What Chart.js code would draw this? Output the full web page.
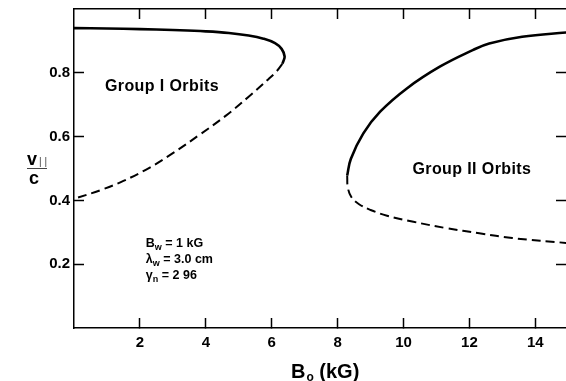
<!DOCTYPE html>
<html>
<head>
<meta charset="utf-8">
<script src="https://cdn.jsdelivr.net/npm/chart.js@4.4.1/dist/chart.umd.min.js"></script>
<style>
  html, body { margin: 0; padding: 0; background: #fff; }
  canvas { display: block; }
</style>
</head>
<body>
<canvas id="chart" width="566" height="381"></canvas>
<script>
// ---- data ----
var xTicks = [2, 4, 6, 8, 10, 12, 14];
var yTicks = [0.2, 0.4, 0.6, 0.8];

// Group I, upper branch (solid)
var g1SolidX = [0, 1, 2, 3, 4, 4.7, 5.3, 5.75, 6.1, 6.3, 6.39, 6.36, 6.32];
var g1SolidY = [0.940, 0.939, 0.937, 0.934, 0.930, 0.925, 0.917, 0.907, 0.893, 0.875, 0.852, 0.838, 0.828];
// Group I, lower branch (dashed)
var g1DashX = [6.32, 6.15, 5.9, 5.3, 4.6, 3.8, 3.0, 2.3, 1.5, 0.8, 0];
var g1DashY = [0.828, 0.805, 0.780, 0.725, 0.665, 0.605, 0.548, 0.503, 0.461, 0.432, 0.405];
// Group II, upper branch (solid)
var g2SolidX = [8.29, 8.4, 8.78, 9.29, 10.1, 11.1, 12.1, 12.6, 13.6, 15];
var g2SolidY = [0.478, 0.530, 0.610, 0.678, 0.751, 0.819, 0.871, 0.892, 0.913, 0.927];
// Group II, lower branch (dashed)
var g2DashX = [8.29, 8.31, 8.42, 8.65, 9.0, 9.5, 10.3, 11.3, 12.3, 13.3, 15];
var g2DashY = [0.478, 0.440, 0.410, 0.388, 0.370, 0.352, 0.333, 0.313, 0.297, 0.282, 0.266];

function pts(xs, ys) {
  return xs.map(function (x, i) { return { x: x, y: ys[i] }; });
}

var FONT = "'Liberation Sans', Arial, Helvetica, sans-serif";
Chart.defaults.font.family = FONT;
Chart.defaults.color = '#000';

var line = function (data, dashed) {
  return {
    data: data,
    showLine: true,
    borderColor: '#000',
    borderWidth: dashed ? 2 : 2.6,
    borderDash: dashed ? [9, 5] : [],
    pointRadius: 0,
    tension: 0.4,
    fill: false
  };
};

var gridOpts = {
  drawOnChartArea: false,
  tickLength: -10,
  tickWidth: 1.5,
  tickColor: '#000'
};

// annotation text, drawn at data positions
var labels = {
  id: 'labels',
  afterDatasetsDraw: function (chart) {
    var ctx = chart.ctx;
    var xs = chart.scales.x, ys = chart.scales.y;
    ctx.save();
    ctx.fillStyle = '#000';
    ctx.textBaseline = 'middle';
    ctx.textAlign = 'left';

    ctx.font = 'bold 16px ' + FONT;
    ctx.letterSpacing = '0.4px';
    ctx.fillText('Group I Orbits', xs.getPixelForValue(0.94), ys.getPixelForValue(0.757));
    ctx.fillText('Group II Orbits', xs.getPixelForValue(10.27), ys.getPixelForValue(0.497));
    ctx.letterSpacing = '0px';

    // parameter block
    var px = xs.getPixelForValue(2.18);
    var rows = [['B', 'w', ' = 1 kG'], ['\u03bb', 'w', ' = 3.0 cm'], ['\u03b3', 'n', ' = 2 96']];
    var rowY = [0.265, 0.215, 0.165];
    rows.forEach(function (r, i) {
      var py = ys.getPixelForValue(rowY[i]);
      ctx.font = 'bold 12.5px ' + FONT;
      ctx.fillText(r[0], px, py);
      var w = ctx.measureText(r[0]).width;
      ctx.font = 'bold 9px ' + FONT;
      ctx.fillText(r[1], px + w, py + 4);
      var w2 = ctx.measureText(r[1]).width;
      ctx.font = 'bold 12.5px ' + FONT;
      ctx.fillText(r[2], px + w + w2, py);
    });

    // x axis title: B_o (kG)
    ctx.textBaseline = 'alphabetic';
    ctx.font = 'bold 20px ' + FONT;
    var tx = 291, ty = 378;
    ctx.fillText('B', tx, ty);
    var bw = ctx.measureText('B').width;
    ctx.font = 'bold 12px ' + FONT;
    ctx.fillText('o', tx + bw + 1, ty + 3);
    var ow = ctx.measureText('o').width;
    ctx.font = 'bold 20px ' + FONT;
    ctx.fillText(' (kG)', tx + bw + ow + 1, ty);

    // y axis title: v|| over c
    ctx.font = 'bold 18px ' + FONT;
    ctx.fillText('v', 27, 165);
    ctx.font = '10px ' + FONT;
    ctx.fillStyle = '#444';
    ctx.fillText('| |', 39, 165);
    ctx.fillRect(27, 168, 20, 1);
    ctx.fillStyle = '#000';
    ctx.font = 'bold 18px ' + FONT;
    ctx.textAlign = 'center';
    ctx.fillText('c', 34, 184);
    ctx.restore();
  }
};

var setTicks = function (list) {
  return function (scale) {
    scale.ticks = list.map(function (v) { return { value: v }; });
  };
};

var fitTo = function (prop, size) {
  return function (s) {
    s[prop] = size;
    s.paddingTop = 0; s.paddingBottom = 0;
    s.paddingLeft = 0; s.paddingRight = 0;
  };
};

new Chart(document.getElementById('chart'), {
  type: 'scatter',
  data: {
    datasets: [
      line(pts(g1SolidX, g1SolidY), false),
      line(pts(g1DashX, g1DashY), true),
      line(pts(g2SolidX, g2SolidY), false),
      line(pts(g2DashX, g2DashY), true)
    ]
  },
  options: {
    responsive: false,
    devicePixelRatio: 1,
    animation: false,
    layout: { padding: { top: 9, left: 0, right: 0, bottom: 0 } },
    plugins: { legend: { display: false }, tooltip: { enabled: false } },
    scales: {
      x: {
        type: 'linear', position: 'bottom', min: 0, max: 14.93,
        afterBuildTicks: setTicks(xTicks),
        afterFit: fitTo('height', 53),
        grid: gridOpts,
        border: { color: '#000', width: 1.5 },
        ticks: { font: { size: 15, weight: 'bold' }, padding: 16, maxRotation: 0 }
      },
      x2: {
        type: 'linear', position: 'top', min: 0, max: 14.93,
        afterBuildTicks: setTicks(xTicks),
        afterFit: fitTo('height', 0),
        grid: gridOpts,
        border: { color: '#000', width: 1.5 },
        ticks: { display: false }
      },
      y: {
        type: 'linear', position: 'left', min: 0, max: 1,
        afterBuildTicks: setTicks(yTicks),
        afterFit: fitTo('width', 74),
        grid: gridOpts,
        border: { color: '#000', width: 1.5 },
        ticks: {
          font: { size: 15, weight: 'bold' }, padding: 14,
          callback: function (v) { return v.toFixed(1); }
        }
      },
      y2: {
        type: 'linear', position: 'right', min: 0, max: 1,
        afterBuildTicks: setTicks(yTicks),
        afterFit: fitTo('width', 0),
        grid: gridOpts,
        border: { display: false },
        ticks: { display: false }
      }
    }
  },
  plugins: [labels]
});
</script>
</body>
</html>
